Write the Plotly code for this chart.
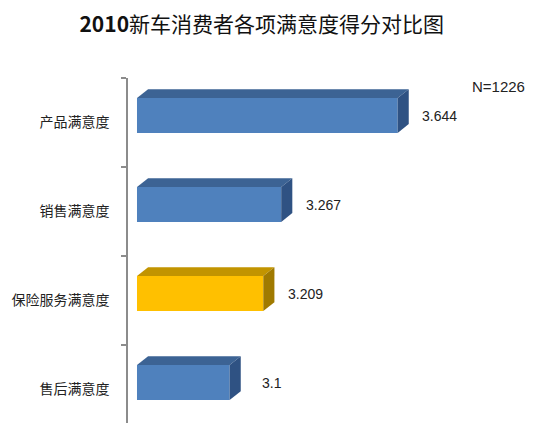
import plotly.graph_objects as go

categories = ["产品满意度", "销售满意度", "保险服务满意度", "售后满意度"]
scores = [3.644, 3.267, 3.209, 3.1]
score_labels = ["3.644", "3.267", "3.209", "3.1"]
front_colors = ["#4F81BD", "#4F81BD", "#FFC000", "#4F81BD"]
top_colors = ["#3C6394", "#3C6394", "#C29400", "#3C6394"]
side_colors = ["#2F5283", "#2F5283", "#A07A00", "#2F5283"]

x_min = 2.8           # value axis starts here
depth_x = 0.036       # 3d depth, value units
depth_y = 0.10        # 3d depth, category units
bar_off = -0.275
bar_w = 0.393

pos = list(range(len(categories)))

fig = go.Figure()

# front faces
fig.add_trace(go.Bar(
    y=pos,
    x=[s - x_min for s in scores],
    base=x_min,
    orientation="h",
    offset=bar_off,
    width=bar_w,
    marker=dict(color=front_colors, line=dict(width=0)),
    hoverinfo="skip",
    showlegend=False,
))

# top and side faces of the 3d bars
for i, s in enumerate(scores):
    y0 = pos[i] + bar_off
    y1 = y0 + bar_w
    fig.add_trace(go.Scatter(
        x=[x_min, x_min + depth_x, s + depth_x, s, x_min],
        y=[y0, y0 - depth_y, y0 - depth_y, y0, y0],
        fill="toself", fillcolor=top_colors[i], mode="lines",
        line=dict(width=0), hoverinfo="skip", showlegend=False,
    ))
    fig.add_trace(go.Scatter(
        x=[s, s + depth_x, s + depth_x, s, s],
        y=[y0, y0 - depth_y, y1 - depth_y, y1, y0],
        fill="toself", fillcolor=side_colors[i], mode="lines",
        line=dict(width=0), hoverinfo="skip", showlegend=False,
    ))
    fig.add_annotation(
        x=s, y=pos[i] + bar_off + bar_w / 2, text=score_labels[i],
        showarrow=False, xanchor="center", yanchor="middle", xshift=42,
        font=dict(family="Liberation Sans", size=14, color="#222222"),
    )

fig.add_annotation(
    x=0.90, y=0.974, xref="paper", yref="paper", text="N=1226",
    showarrow=False, xanchor="center", yanchor="middle",
    font=dict(family="Liberation Sans", size=15, color="#222222"),
)

# page body keeps its 8px margin, so the figure is a bit smaller than the window
fig.update_layout(
    width=532, height=415,
    margin=dict(l=120, r=0, t=70, b=0),
    paper_bgcolor="white", plot_bgcolor="white",
    title=dict(
        text="<b>2010</b>新车消费者各项满意度得分对比图",
        x=0.477, xanchor="center", y=0.961, yanchor="middle",
        font=dict(family="Noto Sans CJK SC", size=21, color="#111111"),
    ),
    xaxis=dict(range=[2.7709, 4.105], visible=False, fixedrange=True),
    yaxis=dict(
        range=[3.376, -0.5],
        tickvals=pos, ticktext=categories,
        ticks="", showgrid=False, zeroline=False,
        showline=True, linecolor="#8C8C8C", linewidth=1.5,
        ticklabelstandoff=14,
        tickfont=dict(family="Noto Sans CJK SC", size=14, color="#222222"),
        minor=dict(tickvals=[-0.5, 0.5, 1.5, 2.5, 3.5], ticks="outside",
                   ticklen=5, tickcolor="#8C8C8C", tickwidth=1.5, showgrid=False),
    ),
)

fig.write_html("out.html")
